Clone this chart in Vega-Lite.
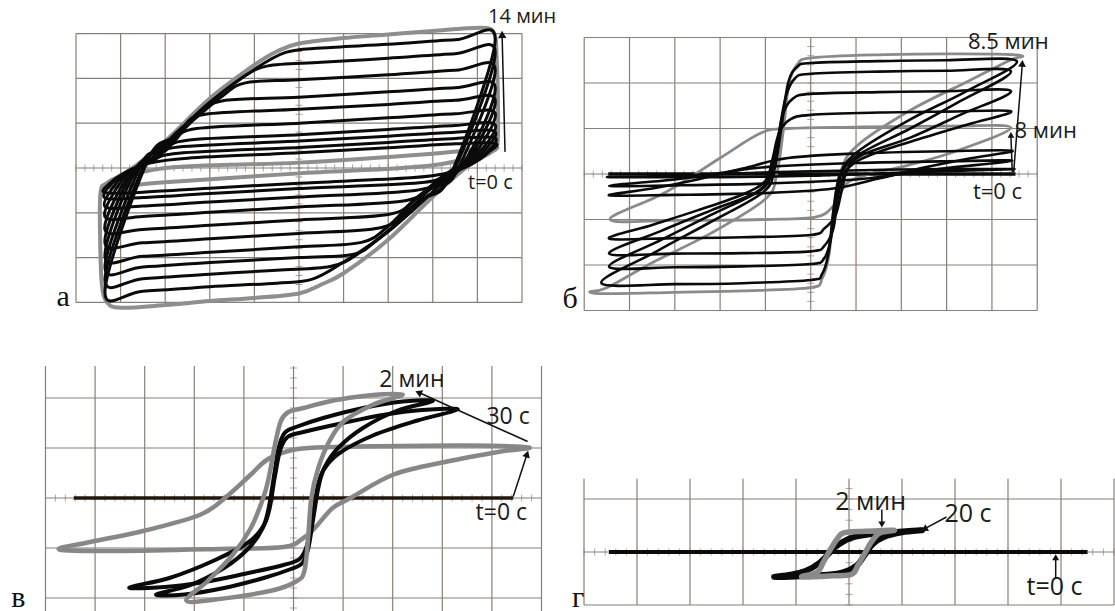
{
"$schema":"https://vega.github.io/schema/vega-lite/v6.json",
"padding":0,
"background":"white",
"config":{"view":{"stroke":null}},
"datasets":{
"G6":[{"x":-5,"y":-3,"x2":-5,"y2":3},{"x":-4,"y":-3,"x2":-4,"y2":3},{"x":-3,"y":-3,"x2":-3,"y2":3},{"x":-2,"y":-3,"x2":-2,"y2":3},{"x":-1,"y":-3,"x2":-1,"y2":3},{"x":0,"y":-3,"x2":0,"y2":3},{"x":1,"y":-3,"x2":1,"y2":3},{"x":2,"y":-3,"x2":2,"y2":3},{"x":3,"y":-3,"x2":3,"y2":3},{"x":4,"y":-3,"x2":4,"y2":3},{"x":5,"y":-3,"x2":5,"y2":3},
{"x":-5,"y":-3,"x2":5,"y2":-3},{"x":-5,"y":-2,"x2":5,"y2":-2},{"x":-5,"y":-1,"x2":5,"y2":-1},{"x":-5,"y":0,"x2":5,"y2":0},{"x":-5,"y":1,"x2":5,"y2":1},{"x":-5,"y":2,"x2":5,"y2":2},{"x":-5,"y":3,"x2":5,"y2":3}],
"vG":[{"x":-5,"y":-2.26,"x2":-5,"y2":2.64},{"x":-4,"y":-2.26,"x2":-4,"y2":2.64},{"x":-3,"y":-2.26,"x2":-3,"y2":2.64},{"x":-2,"y":-2.26,"x2":-2,"y2":2.64},{"x":-1,"y":-2.26,"x2":-1,"y2":2.64},{"x":0,"y":-2.26,"x2":0,"y2":2.64},{"x":1,"y":-2.26,"x2":1,"y2":2.64},{"x":2,"y":-2.26,"x2":2,"y2":2.64},{"x":3,"y":-2.26,"x2":3,"y2":2.64},{"x":4,"y":-2.26,"x2":4,"y2":2.64},{"x":5,"y":-2.26,"x2":5,"y2":2.64},
{"x":-5,"y":-2,"x2":5,"y2":-2},{"x":-5,"y":-1,"x2":5,"y2":-1},{"x":-5,"y":0,"x2":5,"y2":0},{"x":-5,"y":1,"x2":5,"y2":1},{"x":-5,"y":2,"x2":5,"y2":2}],
"gG":[{"x":-5,"y":-1,"x2":-5,"y2":1.38},{"x":-4,"y":-1,"x2":-4,"y2":1.38},{"x":-3,"y":-1,"x2":-3,"y2":1.38},{"x":-2,"y":-1,"x2":-2,"y2":1.38},{"x":-1,"y":-1,"x2":-1,"y2":1.38},{"x":0,"y":-1,"x2":0,"y2":1.38},{"x":1,"y":-1,"x2":1,"y2":1.38},{"x":2,"y":-1,"x2":2,"y2":1.38},{"x":3,"y":-1,"x2":3,"y2":1.38},{"x":4,"y":-1,"x2":4,"y2":1.38},{"x":5,"y":-1,"x2":5,"y2":1.38},
{"x":-5,"y":-1,"x2":5,"y2":-1},{"x":-5,"y":0,"x2":5,"y2":0},{"x":-5,"y":1,"x2":5,"y2":1}],
"hx":[{"x":-5,"y":0},{"x":-4.8,"y":0},{"x":-4.6,"y":0},{"x":-4.4,"y":0},{"x":-4.2,"y":0},{"x":-4,"y":0},{"x":-3.8,"y":0},{"x":-3.6,"y":0},{"x":-3.4,"y":0},{"x":-3.2,"y":0},{"x":-3,"y":0},{"x":-2.8,"y":0},{"x":-2.6,"y":0},{"x":-2.4,"y":0},{"x":-2.2,"y":0},{"x":-2,"y":0},{"x":-1.8,"y":0},{"x":-1.6,"y":0},{"x":-1.4,"y":0},{"x":-1.2,"y":0},{"x":-1,"y":0},{"x":-0.8,"y":0},{"x":-0.6,"y":0},{"x":-0.4,"y":0},{"x":-0.2,"y":0},{"x":0,"y":0},{"x":0.2,"y":0},{"x":0.4,"y":0},{"x":0.6,"y":0},{"x":0.8,"y":0},{"x":1,"y":0},{"x":1.2,"y":0},{"x":1.4,"y":0},{"x":1.6,"y":0},{"x":1.8,"y":0},{"x":2,"y":0},{"x":2.2,"y":0},{"x":2.4,"y":0},{"x":2.6,"y":0},{"x":2.8,"y":0},{"x":3,"y":0},{"x":3.2,"y":0},{"x":3.4,"y":0},{"x":3.6,"y":0},{"x":3.8,"y":0},{"x":4,"y":0},{"x":4.2,"y":0},{"x":4.4,"y":0},{"x":4.6,"y":0},{"x":4.8,"y":0},{"x":5,"y":0}],
"vy":[{"x":0,"y":-3},{"x":0,"y":-2.8},{"x":0,"y":-2.6},{"x":0,"y":-2.4},{"x":0,"y":-2.2},{"x":0,"y":-2},{"x":0,"y":-1.8},{"x":0,"y":-1.6},{"x":0,"y":-1.4},{"x":0,"y":-1.2},{"x":0,"y":-1},{"x":0,"y":-0.8},{"x":0,"y":-0.6},{"x":0,"y":-0.4},{"x":0,"y":-0.2},{"x":0,"y":0},{"x":0,"y":0.2},{"x":0,"y":0.4},{"x":0,"y":0.6},{"x":0,"y":0.8},{"x":0,"y":1},{"x":0,"y":1.2},{"x":0,"y":1.4},{"x":0,"y":1.6},{"x":0,"y":1.8},{"x":0,"y":2},{"x":0,"y":2.2},{"x":0,"y":2.4},{"x":0,"y":2.6},{"x":0,"y":2.8},{"x":0,"y":3}],
"aK":[
{"s":"k1","x":4.4,"y":0.55},{"s":"k1","x":3.5,"y":0.54},{"s":"k1","x":2,"y":0.45},{"s":"k1","x":0,"y":0.34},{"s":"k1","x":-2.5,"y":0.22},{"s":"k1","x":-3.4,"y":0.1},{"s":"k1","x":-3.9,"y":-0.1},{"s":"k1","x":-4.25,"y":-0.35},{"s":"k1","x":-4.35,"y":-0.55},{"s":"k1","x":-3.5,"y":-0.54},{"s":"k1","x":-2,"y":-0.45},{"s":"k1","x":0,"y":-0.34},{"s":"k1","x":2.5,"y":-0.22},{"s":"k1","x":3.4,"y":-0.1},{"s":"k1","x":3.9,"y":0.1},{"s":"k1","x":4.25,"y":0.35},
{"s":"k2","x":4.4,"y":0.67},{"s":"k2","x":3.5,"y":0.66},{"s":"k2","x":2,"y":0.57},{"s":"k2","x":0,"y":0.46},{"s":"k2","x":-2.7,"y":0.33},{"s":"k2","x":-3.3,"y":0.15},{"s":"k2","x":-3.8,"y":-0.1},{"s":"k2","x":-4.15,"y":-0.3},{"s":"k2","x":-4.35,"y":-0.67},{"s":"k2","x":-3.5,"y":-0.66},{"s":"k2","x":-2,"y":-0.57},{"s":"k2","x":0,"y":-0.46},{"s":"k2","x":2.7,"y":-0.33},{"s":"k2","x":3.3,"y":-0.15},{"s":"k2","x":3.8,"y":0.1},{"s":"k2","x":4.15,"y":0.3},
{"s":"k3","x":4.4,"y":0.81},{"s":"k3","x":3.5,"y":0.8},{"s":"k3","x":2,"y":0.71},{"s":"k3","x":0,"y":0.6},{"s":"k3","x":-2.7,"y":0.47},{"s":"k3","x":-3.2,"y":0.25},{"s":"k3","x":-3.7,"y":-0.05},{"s":"k3","x":-4.05,"y":-0.28},{"s":"k3","x":-4.35,"y":-0.86},{"s":"k3","x":-3.5,"y":-0.85},{"s":"k3","x":-2,"y":-0.76},{"s":"k3","x":0,"y":-0.65},{"s":"k3","x":2.6,"y":-0.5},{"s":"k3","x":3.2,"y":-0.25},{"s":"k3","x":3.7,"y":0.05},{"s":"k3","x":4.05,"y":0.28},
{"s":"k4","x":4.4,"y":0.96},{"s":"k4","x":3.5,"y":0.95},{"s":"k4","x":2,"y":0.86},{"s":"k4","x":0,"y":0.74},{"s":"k4","x":-2.5,"y":0.62},{"s":"k4","x":-3,"y":0.38},{"s":"k4","x":-3.5,"y":0.04},{"s":"k4","x":-3.95,"y":-0.25},{"s":"k4","x":-4.35,"y":-1.09},{"s":"k4","x":-3.5,"y":-1.08},{"s":"k4","x":-2,"y":-0.99},{"s":"k4","x":0,"y":-0.87},{"s":"k4","x":2.3,"y":-0.74},{"s":"k4","x":2.9,"y":-0.45},{"s":"k4","x":3.4,"y":-0.06},{"s":"k4","x":3.95,"y":0.25},
{"s":"k5","x":4.4,"y":1.22},{"s":"k5","x":3.5,"y":1.21},{"s":"k5","x":2,"y":1.12},{"s":"k5","x":0,"y":1},{"s":"k5","x":-2.3,"y":0.88},{"s":"k5","x":-2.8,"y":0.6},{"s":"k5","x":-3.3,"y":0.22},{"s":"k5","x":-3.85,"y":-0.2},{"s":"k5","x":-4.35,"y":-1.38},{"s":"k5","x":-3.5,"y":-1.37},{"s":"k5","x":-2,"y":-1.28},{"s":"k5","x":0,"y":-1.16},{"s":"k5","x":2,"y":-1.04},{"s":"k5","x":2.6,"y":-0.7},{"s":"k5","x":3.2,"y":-0.2},{"s":"k5","x":3.85,"y":0.2},
{"s":"k6","x":4.4,"y":1.52},{"s":"k6","x":3.5,"y":1.51},{"s":"k6","x":2,"y":1.42},{"s":"k6","x":0,"y":1.31},{"s":"k6","x":-2.1,"y":1.2},{"s":"k6","x":-2.6,"y":0.92},{"s":"k6","x":-3.1,"y":0.44},{"s":"k6","x":-3.75,"y":-0.12},{"s":"k6","x":-4.35,"y":-1.68},{"s":"k6","x":-3.5,"y":-1.67},{"s":"k6","x":-2,"y":-1.58},{"s":"k6","x":0,"y":-1.46},{"s":"k6","x":1.8,"y":-1.34},{"s":"k6","x":2.4,"y":-0.98},{"s":"k6","x":3,"y":-0.42},{"s":"k6","x":3.75,"y":0.12},
{"s":"k7","x":4.4,"y":1.8},{"s":"k7","x":3.5,"y":1.79},{"s":"k7","x":2,"y":1.7},{"s":"k7","x":0,"y":1.58},{"s":"k7","x":-1.7,"y":1.5},{"s":"k7","x":-2.2,"y":1.22},{"s":"k7","x":-2.8,"y":0.66},{"s":"k7","x":-3.65,"y":-0.05},{"s":"k7","x":-4.35,"y":-1.98},{"s":"k7","x":-3.5,"y":-1.97},{"s":"k7","x":-2,"y":-1.88},{"s":"k7","x":0,"y":-1.76},{"s":"k7","x":1.4,"y":-1.66},{"s":"k7","x":2,"y":-1.3},{"s":"k7","x":2.7,"y":-0.62},{"s":"k7","x":3.65,"y":0.05},
{"s":"k8","x":4.4,"y":2.19},{"s":"k8","x":3.5,"y":2.18},{"s":"k8","x":2,"y":2.08},{"s":"k8","x":0,"y":1.97},{"s":"k8","x":-1.2,"y":1.9},{"s":"k8","x":-1.7,"y":1.62},{"s":"k8","x":-2.5,"y":0.96},{"s":"k8","x":-3.1,"y":0.42},{"s":"k8","x":-3.55,"y":0.05},{"s":"k8","x":-4.35,"y":-2.22},{"s":"k8","x":-3.5,"y":-2.21},{"s":"k8","x":-2,"y":-2.11},{"s":"k8","x":0,"y":-2},{"s":"k8","x":1.2,"y":-1.93},{"s":"k8","x":1.7,"y":-1.65},{"s":"k8","x":2.5,"y":-0.99},{"s":"k8","x":3.1,"y":-0.44},{"s":"k8","x":3.55,"y":-0.05},
{"s":"k9","x":4.4,"y":2.56},{"s":"k9","x":3.5,"y":2.55},{"s":"k9","x":2,"y":2.45},{"s":"k9","x":0.5,"y":2.36},{"s":"k9","x":-0.7,"y":2.28},{"s":"k9","x":-1.3,"y":2},{"s":"k9","x":-2,"y":1.45},{"s":"k9","x":-2.8,"y":0.7},{"s":"k9","x":-3.45,"y":0.1},{"s":"k9","x":-4.35,"y":-2.48},{"s":"k9","x":-3.5,"y":-2.47},{"s":"k9","x":-2,"y":-2.37},{"s":"k9","x":-0.5,"y":-2.28},{"s":"k9","x":0.7,"y":-2.2},{"s":"k9","x":1.3,"y":-1.93},{"s":"k9","x":2,"y":-1.4},{"s":"k9","x":2.8,"y":-0.68},{"s":"k9","x":3.45,"y":-0.1},
{"s":"k10","x":4.4,"y":2.86},{"s":"k10","x":3.5,"y":2.86},{"s":"k10","x":2,"y":2.76},{"s":"k10","x":0.5,"y":2.68},{"s":"k10","x":-0.3,"y":2.58},{"s":"k10","x":-1,"y":2.2},{"s":"k10","x":-2,"y":1.47},{"s":"k10","x":-2.8,"y":0.72},{"s":"k10","x":-3.4,"y":0.15},{"s":"k10","x":-4.35,"y":-2.75},{"s":"k10","x":-3.5,"y":-2.75},{"s":"k10","x":-2,"y":-2.65},{"s":"k10","x":-0.5,"y":-2.57},{"s":"k10","x":0.3,"y":-2.48},{"s":"k10","x":1,"y":-2.1},{"s":"k10","x":2,"y":-1.42},{"s":"k10","x":2.8,"y":-0.7},{"s":"k10","x":3.4,"y":-0.15}],
"aY":[
{"s":"g1","x":4.38,"y":3},{"s":"g1","x":4.1,"y":3.13},{"s":"g1","x":3,"y":3.06},{"s":"g1","x":2,"y":2.98},{"s":"g1","x":1,"y":2.9},{"s":"g1","x":0,"y":2.78},{"s":"g1","x":-0.5,"y":2.6},{"s":"g1","x":-1,"y":2.3},{"s":"g1","x":-2,"y":1.55},{"s":"g1","x":-3,"y":0.6},{"s":"g1","x":-3.8,"y":-0.05},{"s":"g1","x":-4.3,"y":-0.33},{"s":"g1","x":-4.45,"y":-0.55},{"s":"g1","x":-4.46,"y":-1.5},{"s":"g1","x":-4.42,"y":-2.6},{"s":"g1","x":-4.3,"y":-3},{"s":"g1","x":-4,"y":-3.12},{"s":"g1","x":-3,"y":-3.06},{"s":"g1","x":-2,"y":-2.97},{"s":"g1","x":-1,"y":-2.9},{"s":"g1","x":0,"y":-2.8},{"s":"g1","x":0.5,"y":-2.6},{"s":"g1","x":1,"y":-2.35},{"s":"g1","x":2,"y":-1.6},{"s":"g1","x":3,"y":-0.64},{"s":"g1","x":3.8,"y":0.05},{"s":"g1","x":4.3,"y":0.35},{"s":"g1","x":4.45,"y":0.55},{"s":"g1","x":4.46,"y":1.5},{"s":"g1","x":4.43,"y":2.5},
{"s":"g0","x":-4.42,"y":-0.42},{"s":"g0","x":-3,"y":0},{"s":"g0","x":0,"y":0.12},{"s":"g0","x":3,"y":0.32},{"s":"g0","x":4.45,"y":0.45},{"s":"g0","x":3,"y":0.06},{"s":"g0","x":0,"y":-0.12},{"s":"g0","x":-3,"y":-0.32}],
"bK":[
{"s":"b1","x":4.45,"y":0.11},{"s":"b1","x":2,"y":0.1},{"s":"b1","x":0,"y":0.06},{"s":"b1","x":-2,"y":0},{"s":"b1","x":-3.5,"y":-0.05},{"s":"b1","x":-4.45,"y":-0.07},{"s":"b1","x":-2,"y":-0.07},{"s":"b1","x":0,"y":-0.04},{"s":"b1","x":2,"y":0.03},{"s":"b1","x":3.5,"y":0.08},
{"s":"b2","x":4.45,"y":0.29},{"s":"b2","x":3,"y":0.28},{"s":"b2","x":1,"y":0.24},{"s":"b2","x":-1,"y":0.15},{"s":"b2","x":-2,"y":0.02},{"s":"b2","x":-3,"y":-0.12},{"s":"b2","x":-4.45,"y":-0.26},{"s":"b2","x":-3,"y":-0.25},{"s":"b2","x":-1,"y":-0.21},{"s":"b2","x":1,"y":-0.12},{"s":"b2","x":2,"y":0},{"s":"b2","x":3,"y":0.13},
{"s":"b3","x":4.45,"y":0.51},{"s":"b3","x":3,"y":0.5},{"s":"b3","x":1,"y":0.45},{"s":"b3","x":-0.5,"y":0.35},{"s":"b3","x":-1.5,"y":0.12},{"s":"b3","x":-2.5,"y":-0.12},{"s":"b3","x":-3.5,"y":-0.32},{"s":"b3","x":-4.45,"y":-0.47},{"s":"b3","x":-3,"y":-0.46},{"s":"b3","x":-1,"y":-0.42},{"s":"b3","x":0.5,"y":-0.32},{"s":"b3","x":1.5,"y":-0.1},{"s":"b3","x":2.5,"y":0.14},{"s":"b3","x":3.5,"y":0.34},
{"s":"b5","x":4.42,"y":1.38},{"s":"b5","x":3,"y":1.37},{"s":"b5","x":1.5,"y":1.35},{"s":"b5","x":0,"y":1.3},{"s":"b5","x":-0.45,"y":1.2},{"s":"b5","x":-0.7,"y":0.9},{"s":"b5","x":-0.85,"y":0.3},{"s":"b5","x":-1,"y":-0.15},{"s":"b5","x":-1.5,"y":-0.45},{"s":"b5","x":-2.5,"y":-0.8},{"s":"b5","x":-3.5,"y":-1.12},{"s":"b5","x":-4.45,"y":-1.42},{"s":"b5","x":-3,"y":-1.41},{"s":"b5","x":-1.5,"y":-1.39},{"s":"b5","x":0,"y":-1.34},{"s":"b5","x":0.3,"y":-1.2},{"s":"b5","x":0.55,"y":-0.9},{"s":"b5","x":0.7,"y":-0.3},{"s":"b5","x":0.85,"y":0.15},{"s":"b5","x":1.4,"y":0.45},{"s":"b5","x":2.5,"y":0.8},{"s":"b5","x":3.5,"y":1.1},
{"s":"b6","x":4.42,"y":1.82},{"s":"b6","x":3,"y":1.82},{"s":"b6","x":1.5,"y":1.8},{"s":"b6","x":0,"y":1.76},{"s":"b6","x":-0.4,"y":1.65},{"s":"b6","x":-0.62,"y":1.3},{"s":"b6","x":-0.75,"y":0.6},{"s":"b6","x":-0.9,"y":0},{"s":"b6","x":-1.2,"y":-0.4},{"s":"b6","x":-2.2,"y":-0.8},{"s":"b6","x":-3.3,"y":-1.25},{"s":"b6","x":-4.45,"y":-1.75},{"s":"b6","x":-3,"y":-1.75},{"s":"b6","x":-1.5,"y":-1.74},{"s":"b6","x":0,"y":-1.7},{"s":"b6","x":0.3,"y":-1.58},{"s":"b6","x":0.5,"y":-1.2},{"s":"b6","x":0.6,"y":-0.5},{"s":"b6","x":0.75,"y":0},{"s":"b6","x":1.1,"y":0.4},{"s":"b6","x":2.2,"y":0.8},{"s":"b6","x":3.3,"y":1.3},
{"s":"b7","x":4.42,"y":2.26},{"s":"b7","x":3,"y":2.27},{"s":"b7","x":1.5,"y":2.25},{"s":"b7","x":0,"y":2.2},{"s":"b7","x":-0.35,"y":2.1},{"s":"b7","x":-0.55,"y":1.7},{"s":"b7","x":-0.7,"y":0.9},{"s":"b7","x":-0.85,"y":0.1},{"s":"b7","x":-1.1,"y":-0.35},{"s":"b7","x":-2.2,"y":-0.9},{"s":"b7","x":-3.3,"y":-1.45},{"s":"b7","x":-4.45,"y":-2.04},{"s":"b7","x":-3,"y":-2.05},{"s":"b7","x":-1.5,"y":-2.03},{"s":"b7","x":0,"y":-1.98},{"s":"b7","x":0.3,"y":-1.85},{"s":"b7","x":0.45,"y":-1.4},{"s":"b7","x":0.55,"y":-0.6},{"s":"b7","x":0.7,"y":0.05},{"s":"b7","x":1.1,"y":0.45},{"s":"b7","x":2.2,"y":1},{"s":"b7","x":3.3,"y":1.6},
{"s":"b8","x":4.55,"y":2.48},{"s":"b8","x":3,"y":2.5},{"s":"b8","x":1.5,"y":2.48},{"s":"b8","x":0,"y":2.44},{"s":"b8","x":-0.3,"y":2.35},{"s":"b8","x":-0.5,"y":2},{"s":"b8","x":-0.65,"y":1},{"s":"b8","x":-0.8,"y":0.1},{"s":"b8","x":-1.05,"y":-0.4},{"s":"b8","x":-2.2,"y":-1.05},{"s":"b8","x":-3.4,"y":-1.7},{"s":"b8","x":-4.62,"y":-2.4},{"s":"b8","x":-3,"y":-2.42},{"s":"b8","x":-1.5,"y":-2.4},{"s":"b8","x":0,"y":-2.33},{"s":"b8","x":0.25,"y":-2.2},{"s":"b8","x":0.4,"y":-1.7},{"s":"b8","x":0.5,"y":-0.8},{"s":"b8","x":0.65,"y":0},{"s":"b8","x":1.05,"y":0.5},{"s":"b8","x":2.2,"y":1.2},{"s":"b8","x":3.4,"y":1.8}],
"bY":[
{"s":"g8","x":4.42,"y":1.02},{"s":"g8","x":3,"y":1.05},{"s":"g8","x":1,"y":1.03},{"s":"g8","x":-0.5,"y":1},{"s":"g8","x":-1.1,"y":0.9},{"s":"g8","x":-2,"y":0.35},{"s":"g8","x":-3.2,"y":-0.4},{"s":"g8","x":-4.43,"y":-1},{"s":"g8","x":-3,"y":-1.02},{"s":"g8","x":-1,"y":-1},{"s":"g8","x":0.1,"y":-0.95},{"s":"g8","x":0.5,"y":-0.7},{"s":"g8","x":0.8,"y":-0.2},{"s":"g8","x":1.3,"y":0},{"s":"g8","x":2.1,"y":0.18},{"s":"g8","x":3.2,"y":0.5},
{"s":"g85","x":4.68,"y":2.59},{"s":"g85","x":4.3,"y":2.63},{"s":"g85","x":3,"y":2.64},{"s":"g85","x":1.5,"y":2.62},{"s":"g85","x":0,"y":2.55},{"s":"g85","x":-0.3,"y":2.4},{"s":"g85","x":-0.48,"y":2},{"s":"g85","x":-0.6,"y":1},{"s":"g85","x":-0.75,"y":0},{"s":"g85","x":-1,"y":-0.55},{"s":"g85","x":-2.2,"y":-1.3},{"s":"g85","x":-3.5,"y":-1.95},{"s":"g85","x":-4.5,"y":-2.5},{"s":"g85","x":-4.88,"y":-2.59},{"s":"g85","x":-4.5,"y":-2.63},{"s":"g85","x":-3,"y":-2.6},{"s":"g85","x":-1.5,"y":-2.57},{"s":"g85","x":0,"y":-2.5},{"s":"g85","x":0.25,"y":-2.3},{"s":"g85","x":0.4,"y":-1.8},{"s":"g85","x":0.5,"y":-0.9},{"s":"g85","x":0.65,"y":0},{"s":"g85","x":1,"y":0.6},{"s":"g85","x":2.2,"y":1.4},{"s":"g85","x":3.5,"y":2.05},{"s":"g85","x":4.4,"y":2.5}],
"vK":[
{"s":"v1","x":3.31,"y":1.77},{"s":"v1","x":2.6,"y":1.76},{"s":"v1","x":1.8,"y":1.66},{"s":"v1","x":1,"y":1.5},{"s":"v1","x":0.2,"y":1.32},{"s":"v1","x":-0.12,"y":1.22},{"s":"v1","x":-0.27,"y":0.95},{"s":"v1","x":-0.38,"y":0.4},{"s":"v1","x":-0.48,"y":-0.2},{"s":"v1","x":-0.6,"y":-0.55},{"s":"v1","x":-0.9,"y":-0.88},{"s":"v1","x":-1.6,"y":-1.25},{"s":"v1","x":-2.5,"y":-1.6},{"s":"v1","x":-3.31,"y":-1.79},{"s":"v1","x":-2.6,"y":-1.78},{"s":"v1","x":-1.8,"y":-1.68},{"s":"v1","x":-1,"y":-1.52},{"s":"v1","x":-0.2,"y":-1.34},{"s":"v1","x":0.12,"y":-1.22},{"s":"v1","x":0.27,"y":-0.95},{"s":"v1","x":0.38,"y":-0.4},{"s":"v1","x":0.48,"y":0.2},{"s":"v1","x":0.6,"y":0.55},{"s":"v1","x":0.9,"y":0.88},{"s":"v1","x":1.6,"y":1.25},{"s":"v1","x":2.5,"y":1.55},
{"s":"v2","x":2.81,"y":1.94},{"s":"v2","x":2.2,"y":1.93},{"s":"v2","x":1.4,"y":1.8},{"s":"v2","x":0.6,"y":1.6},{"s":"v2","x":0.05,"y":1.42},{"s":"v2","x":-0.18,"y":1.3},{"s":"v2","x":-0.3,"y":1},{"s":"v2","x":-0.4,"y":0.4},{"s":"v2","x":-0.5,"y":-0.2},{"s":"v2","x":-0.62,"y":-0.6},{"s":"v2","x":-0.9,"y":-1},{"s":"v2","x":-1.4,"y":-1.4},{"s":"v2","x":-2.1,"y":-1.75},{"s":"v2","x":-2.77,"y":-1.93},{"s":"v2","x":-2.2,"y":-1.93},{"s":"v2","x":-1.4,"y":-1.8},{"s":"v2","x":-0.6,"y":-1.6},{"s":"v2","x":-0.05,"y":-1.42},{"s":"v2","x":0.18,"y":-1.3},{"s":"v2","x":0.3,"y":-1},{"s":"v2","x":0.4,"y":-0.4},{"s":"v2","x":0.5,"y":0.2},{"s":"v2","x":0.62,"y":0.6},{"s":"v2","x":0.9,"y":1},{"s":"v2","x":1.4,"y":1.4},{"s":"v2","x":2.1,"y":1.75}],
"vY":[
{"s":"w30","x":4.74,"y":1.01},{"s":"w30","x":3.46,"y":1.05},{"s":"w30","x":1.3,"y":1.03},{"s":"w30","x":0.3,"y":1},{"s":"w30","x":-0.14,"y":0.93},{"s":"w30","x":-0.54,"y":0.76},{"s":"w30","x":-0.86,"y":0.47},{"s":"w30","x":-1.3,"y":0.07},{"s":"w30","x":-1.87,"y":-0.33},{"s":"w30","x":-3.03,"y":-0.66},{"s":"w30","x":-4.1,"y":-0.88},{"s":"w30","x":-4.72,"y":-1.03},{"s":"w30","x":-3.5,"y":-1.06},{"s":"w30","x":-1.5,"y":-1.02},{"s":"w30","x":-0.2,"y":-0.98},{"s":"w30","x":0.2,"y":-0.8},{"s":"w30","x":0.43,"y":-0.6},{"s":"w30","x":0.79,"y":-0.2},{"s":"w30","x":1.15,"y":0},{"s":"w30","x":2.02,"y":0.47},{"s":"w30","x":3.1,"y":0.73},{"s":"w30","x":4.18,"y":0.93},
{"s":"w2","x":2.2,"y":2.07},{"s":"w2","x":1.5,"y":2.05},{"s":"w2","x":0.8,"y":1.95},{"s":"w2","x":0.2,"y":1.8},{"s":"w2","x":-0.1,"y":1.72},{"s":"w2","x":-0.25,"y":1.55},{"s":"w2","x":-0.36,"y":1.13},{"s":"w2","x":-0.5,"y":0.4},{"s":"w2","x":-0.61,"y":0},{"s":"w2","x":-0.86,"y":-0.6},{"s":"w2","x":-1.22,"y":-1.13},{"s":"w2","x":-1.73,"y":-1.66},{"s":"w2","x":-2.16,"y":-2.05},{"s":"w2","x":-1.58,"y":-2.03},{"s":"w2","x":-0.43,"y":-1.85},{"s":"w2","x":0.07,"y":-1.66},{"s":"w2","x":0.22,"y":-1.46},{"s":"w2","x":0.29,"y":-0.86},{"s":"w2","x":0.36,"y":0},{"s":"w2","x":0.5,"y":0.6},{"s":"w2","x":0.72,"y":1.13},{"s":"w2","x":1.01,"y":1.53},{"s":"w2","x":1.59,"y":1.86}],
"gK":[
{"s":"r20","x":1.38,"y":0.41},{"s":"r20","x":0.9,"y":0.38},{"s":"r20","x":0.3,"y":0.32},{"s":"r20","x":0,"y":0.25},{"s":"r20","x":-0.25,"y":0.1},{"s":"r20","x":-0.4,"y":-0.05},{"s":"r20","x":-0.55,"y":-0.2},{"s":"r20","x":-0.8,"y":-0.35},{"s":"r20","x":-1.1,"y":-0.43},{"s":"r20","x":-1.41,"y":-0.47},{"s":"r20","x":-1,"y":-0.46},{"s":"r20","x":-0.4,"y":-0.43},{"s":"r20","x":-0.1,"y":-0.38},{"s":"r20","x":0.15,"y":-0.25},{"s":"r20","x":0.3,"y":-0.05},{"s":"r20","x":0.45,"y":0.15},{"s":"r20","x":0.65,"y":0.28},{"s":"r20","x":1,"y":0.37}],
"gY":[
{"s":"r2","x":0.85,"y":0.41},{"s":"r2","x":0.3,"y":0.39},{"s":"r2","x":-0.1,"y":0.36},{"s":"r2","x":-0.22,"y":0.25},{"s":"r2","x":-0.35,"y":0.05},{"s":"r2","x":-0.48,"y":-0.18},{"s":"r2","x":-0.6,"y":-0.38},{"s":"r2","x":-0.89,"y":-0.47},{"s":"r2","x":-0.3,"y":-0.45},{"s":"r2","x":0.05,"y":-0.42},{"s":"r2","x":0.17,"y":-0.25},{"s":"r2","x":0.3,"y":-0.02},{"s":"r2","x":0.43,"y":0.2},{"s":"r2","x":0.58,"y":0.36}]
},
"spacing":10,
"vconcat":[
{"hconcat":[
{"width":540,"height":330,
"encoding":{"x":{"field":"x","type":"quantitative","scale":{"domain":[-6.704,5.404],"nice":false,"zero":false},"axis":null},
"y":{"field":"y","type":"quantitative","scale":{"domain":[-3.616,3.75],"nice":false,"zero":false},"axis":null}},
"layer":[
{"data":{"name":"G6"},"mark":{"type":"rule","color":"#8a7f77","strokeWidth":1.2},"encoding":{"x2":{"field":"x2"},"y2":{"field":"y2"}}},
{"data":{"name":"hx"},"mark":{"type":"tick","orient":"vertical","size":7,"thickness":1,"color":"#8a7f77"}},
{"data":{"name":"vy"},"mark":{"type":"tick","orient":"horizontal","size":7,"thickness":1,"color":"#8a7f77"}},
{"data":{"name":"aY"},"mark":{"type":"line","interpolate":"cardinal-closed","color":"#8e8e8e","strokeWidth":4},"encoding":{"detail":{"field":"s"},"order":{"value":null}}},
{"data":{"name":"aK"},"mark":{"type":"line","interpolate":"cardinal-closed","color":"#0a0a0a","strokeWidth":3},"encoding":{"detail":{"field":"s"},"order":{"value":null}}},
{"data":{"values":[{"x":4.62,"y":0.36,"x2":4.555,"y2":2.95}]},"mark":{"type":"rule","color":"#111","strokeWidth":1.5},"encoding":{"x2":{"field":"x2"},"y2":{"field":"y2"}}},
{"data":{"values":[{"x":4.555,"y":2.98}]},"mark":{"type":"point","shape":"triangle-up","filled":true,"opacity":1,"size":70,"angle":-1.5,"color":"#111"}},
{"data":{"values":[{"x":4.24,"y":3.37,"t":"14 мин"},{"x":3.79,"y":-0.34,"t":"t=0 с"}]},"mark":{"type":"text","align":"left","baseline":"middle","font":"Open Sans","fontSize":20,"color":"#1a1a1a"},"encoding":{"text":{"field":"t"}}},
{"data":{"values":[{"x":-5.29,"y":-2.88,"t":"а"}]},"mark":{"type":"text","align":"center","baseline":"middle","font":"Liberation Serif","fontSize":30,"color":"#111"},"encoding":{"text":{"field":"t"}}}
]},
{"width":560,"height":330,
"encoding":{"x":{"field":"x","type":"quantitative","scale":{"domain":[-5.645,6.717],"nice":false,"zero":false},"axis":null},
"y":{"field":"y","type":"quantitative","scale":{"domain":[-3.429,3.824],"nice":false,"zero":false},"axis":null}},
"layer":[
{"data":{"name":"G6"},"mark":{"type":"rule","color":"#8a7f77","strokeWidth":1.2},"encoding":{"x2":{"field":"x2"},"y2":{"field":"y2"}}},
{"data":{"name":"hx"},"mark":{"type":"tick","orient":"vertical","size":7,"thickness":1,"color":"#8a7f77"}},
{"data":{"name":"vy"},"mark":{"type":"tick","orient":"horizontal","size":7,"thickness":1,"color":"#8a7f77"}},
{"data":{"values":[{"x":-4.47,"y":0,"x2":4.52,"y2":0}]},"mark":{"type":"rule","color":"#0a0a0a","strokeWidth":3.5},"encoding":{"x2":{"field":"x2"},"y2":{"field":"y2"}}},
{"data":{"name":"bY"},"mark":{"type":"line","interpolate":"cardinal-closed","color":"#8a8a8a","strokeWidth":2.8},"encoding":{"detail":{"field":"s"},"order":{"value":null}}},
{"data":{"name":"bK"},"mark":{"type":"line","interpolate":"cardinal-closed","color":"#0a0a0a","strokeWidth":2.6},"encoding":{"detail":{"field":"s"},"order":{"value":null}}},
{"data":{"values":[{"x":4.48,"y":0.04,"x2":4.67,"y2":2.4},{"x":4.45,"y":0.04,"x2":4.42,"y2":0.82}]},"mark":{"type":"rule","color":"#111","strokeWidth":1.5},"encoding":{"x2":{"field":"x2"},"y2":{"field":"y2"}}},
{"data":{"values":[{"x":4.67,"y":2.43}]},"mark":{"type":"point","shape":"triangle-up","filled":true,"opacity":1,"size":60,"angle":4.6,"color":"#111"}},
{"data":{"values":[{"x":4.42,"y":0.86}]},"mark":{"type":"point","shape":"triangle-up","filled":true,"opacity":1,"size":45,"angle":0,"color":"#111"}},
{"data":{"values":[{"x":3.47,"y":2.9,"t":"8.5 мин"},{"x":4.5,"y":0.95,"t":"8 мин"},{"x":3.58,"y":-0.4,"t":"t=0 с"}]},"mark":{"type":"text","align":"left","baseline":"middle","font":"Open Sans","fontSize":22,"color":"#1a1a1a"},"encoding":{"text":{"field":"t"}}},
{"data":{"values":[{"x":-5.31,"y":-2.75,"t":"б"}]},"mark":{"type":"text","align":"center","baseline":"middle","font":"Liberation Serif","fontSize":30,"color":"#111"},"encoding":{"text":{"field":"t"}}}
]}
],"spacing":15,"bounds":"flush"},
{"hconcat":[
{"width":560,"height":271,
"encoding":{"x":{"field":"x","type":"quantitative","scale":{"domain":[-5.917,5.373],"nice":false,"zero":false},"axis":null},
"y":{"field":"y","type":"quantitative","scale":{"domain":[-2.26,3.16],"nice":false,"zero":false},"axis":null}},
"layer":[
{"data":{"name":"vG"},"mark":{"type":"rule","color":"#8a7f77","strokeWidth":1.2},"encoding":{"x2":{"field":"x2"},"y2":{"field":"y2"}}},
{"data":{"name":"hx"},"mark":{"type":"tick","orient":"vertical","size":7,"thickness":1,"color":"#8a7f77"}},
{"data":{"name":"vy"},"transform":[{"filter":"datum.y >= -2.25 && datum.y <= 2.65"}],"mark":{"type":"tick","orient":"horizontal","size":7,"thickness":1,"color":"#8a7f77"}},
{"data":{"values":[{"x":-4.43,"y":0,"x2":4.43,"y2":0}]},"mark":{"type":"rule","color":"#22150c","strokeWidth":3.5},"encoding":{"x2":{"field":"x2"},"y2":{"field":"y2"}}},
{"data":{"name":"vY"},"transform":[{"filter":"datum.s == 'w30'"}],"mark":{"type":"line","interpolate":"cardinal-closed","color":"#878787","strokeWidth":4.5},"encoding":{"detail":{"field":"s"},"order":{"value":null}}},
{"data":{"name":"vK"},"mark":{"type":"line","interpolate":"cardinal-closed","color":"#0a0a0a","strokeWidth":4},"encoding":{"detail":{"field":"s"},"order":{"value":null}}},
{"data":{"name":"vY"},"transform":[{"filter":"datum.s == 'w2'"}],"mark":{"type":"line","interpolate":"cardinal-closed","color":"#878787","strokeWidth":4.5},"encoding":{"detail":{"field":"s"},"order":{"value":null}}},
{"data":{"values":[{"x":4.43,"y":0.03,"x2":4.7,"y2":0.85},{"x":4.72,"y":1.13,"x2":2.55,"y2":2.1}]},"mark":{"type":"rule","color":"#111","strokeWidth":1.5},"encoding":{"x2":{"field":"x2"},"y2":{"field":"y2"}}},
{"data":{"values":[{"x":4.71,"y":0.88}]},"mark":{"type":"point","shape":"triangle-up","filled":true,"opacity":1,"size":60,"angle":18,"color":"#111"}},
{"data":{"values":[{"x":2.52,"y":2.11}]},"mark":{"type":"point","shape":"triangle-up","filled":true,"opacity":1,"size":60,"angle":-66,"color":"#111"}},
{"data":{"values":[{"x":1.73,"y":2.36,"t":"2 мин"},{"x":3.89,"y":1.63,"t":"30 с"},{"x":3.67,"y":-0.3,"t":"t=0 с"}]},"mark":{"type":"text","align":"left","baseline":"middle","font":"Open Sans","fontSize":23,"color":"#1a1a1a"},"encoding":{"text":{"field":"t"}}},
{"data":{"values":[{"x":-5.55,"y":-2.0,"t":"в"}]},"mark":{"type":"text","align":"center","baseline":"middle","font":"Liberation Serif","fontSize":30,"color":"#111"},"encoding":{"text":{"field":"t"}}}
]},
{"width":540,"height":271,
"encoding":{"x":{"field":"x","type":"quantitative","scale":{"domain":[-5.17,5.019],"nice":false,"zero":false},"axis":null},
"y":{"field":"y","type":"quantitative","scale":{"domain":[-1.113,4.0],"nice":false,"zero":false},"axis":null}},
"layer":[
{"data":{"name":"gG"},"mark":{"type":"rule","color":"#8a7f77","strokeWidth":1.2},"encoding":{"x2":{"field":"x2"},"y2":{"field":"y2"}}},
{"data":{"name":"hx"},"mark":{"type":"tick","orient":"vertical","size":7,"thickness":1,"color":"#8a7f77"}},
{"data":{"name":"vy"},"transform":[{"filter":"datum.y >= -1 && datum.y <= 1.3"}],"mark":{"type":"tick","orient":"horizontal","size":7,"thickness":1,"color":"#8a7f77"}},
{"data":{"values":[{"x":-4.53,"y":0,"x2":4.5,"y2":0}]},"mark":{"type":"rule","color":"#0a0a0a","strokeWidth":4},"encoding":{"x2":{"field":"x2"},"y2":{"field":"y2"}}},
{"data":{"name":"gK"},"mark":{"type":"line","interpolate":"cardinal-closed","color":"#0a0a0a","strokeWidth":6},"encoding":{"detail":{"field":"s"},"order":{"value":null}}},
{"data":{"name":"gY"},"mark":{"type":"line","interpolate":"cardinal-closed","color":"#8a8a8a","strokeWidth":5.5},"encoding":{"detail":{"field":"s"},"order":{"value":null}}},
{"data":{"values":[{"x":3.9,"y":-0.5,"x2":3.9,"y2":-0.12},{"x":0.62,"y":0.8,"x2":0.62,"y2":0.55},{"x":1.84,"y":0.66,"x2":1.45,"y2":0.45}]},"mark":{"type":"rule","color":"#111","strokeWidth":1.5},"encoding":{"x2":{"field":"x2"},"y2":{"field":"y2"}}},
{"data":{"values":[{"x":3.9,"y":-0.1}]},"mark":{"type":"point","shape":"triangle-up","filled":true,"opacity":1,"size":50,"angle":0,"color":"#111"}},
{"data":{"values":[{"x":0.62,"y":0.52}]},"mark":{"type":"point","shape":"triangle-up","filled":true,"opacity":1,"size":50,"angle":180,"color":"#111"}},
{"data":{"values":[{"x":1.42,"y":0.43}]},"mark":{"type":"point","shape":"triangle-up","filled":true,"opacity":1,"size":60,"angle":-118,"color":"#111"}},
{"data":{"values":[{"x":-0.26,"y":0.94,"t":"2 мин"},{"x":1.8,"y":0.72,"t":"20 с"},{"x":3.35,"y":-0.66,"t":"t=0 с"}]},"mark":{"type":"text","align":"left","baseline":"middle","font":"Open Sans","fontSize":25,"color":"#1a1a1a"},"encoding":{"text":{"field":"t"}}},
{"data":{"values":[{"x":-5.11,"y":-0.87,"t":"г"}]},"mark":{"type":"text","align":"center","baseline":"middle","font":"Liberation Serif","fontSize":30,"color":"#111"},"encoding":{"text":{"field":"t"}}}
]}
],"spacing":15,"bounds":"flush"}
]
}
